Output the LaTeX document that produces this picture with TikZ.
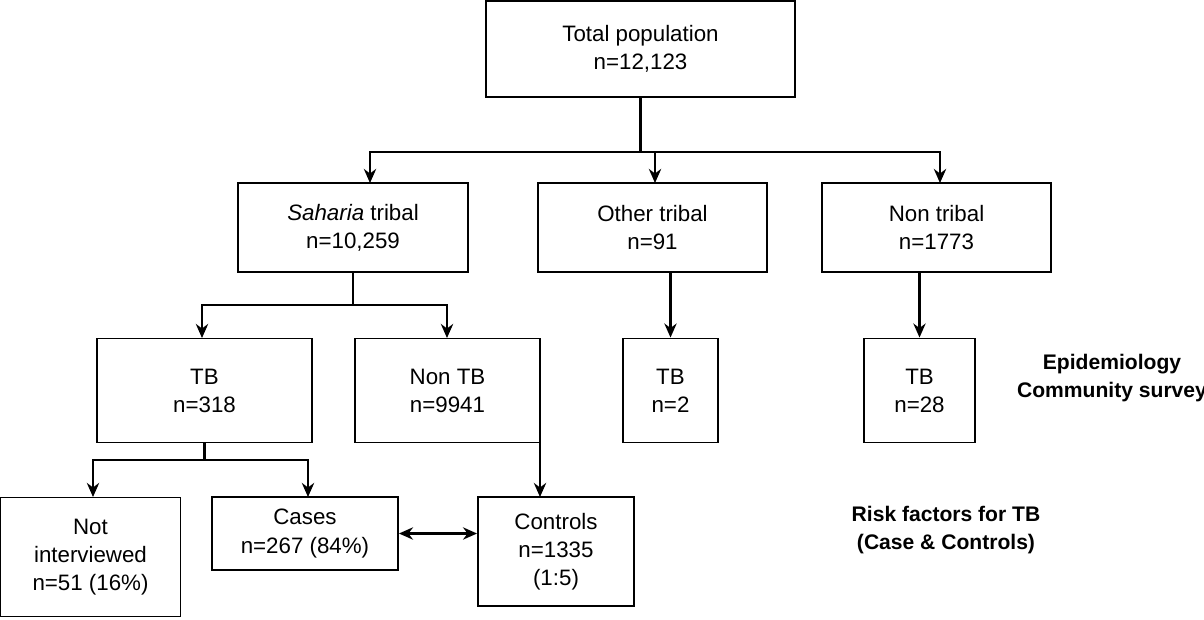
\documentclass[tikz,border=0pt]{standalone}
\usepackage{fontspec}
\setmainfont{Liberation Sans}
\usetikzlibrary{arrows.meta,positioning}
\tikzset{
  box/.style 2 args={draw, line width=1.1pt, align=center, minimum width=#1*0.02cm, minimum height=#2*0.02cm, inner sep=1pt},
  conn/.style={draw, line width=1.3pt},
  arr/.style={draw, line width=1.3pt,-{Stealth[length=8pt,width=7pt]}}
}
\begin{document}
\begin{tikzpicture}[x=0.02cm,y=-0.02cm,font=\fontsize{12.7}{16}\selectfont]
  \useasboundingbox (0,0) rectangle (1204,619);
  \node[box={309}{96}](total) at (640.5,49){Total population\\n=12,123};
  \node[box={230}{89}](sah) at (353,227.5){\textit{Saharia} tribal\\n=10,259};
  \node[box={229}{89}](oth) at (652.5,227.5){Other tribal\\n=91};
  \node[box={229}{89}](non) at (936.5,227.5){Non tribal\\n=1773};
  \node[box={215}{104}](tb) at (204.5,390.5){TB\\n=318};
  \node[box={185}{104}](ntb) at (447.5,390.5){Non TB\\n=9941};
  \node[box={95}{104}](tbo) at (670.5,390.5){TB\\n=2};
  \node[box={111}{104}](tbn) at (919.5,390.5){TB\\n=28};
  \node[box={180}{119}](noti) at (90.5,557){Not\\interviewed\\n=51 (16\%)};
  \node[box={186}{73}](cas) at (305,533.5){Cases\\n=267 (84\%)};
  \node[box={156}{109}](con) at (556,551.5){Controls\\n=1335\\(1:5)};
  \node[font=\fontsize{12}{15.5}\selectfont\bfseries,align=center](epi) at (1112,378){Epidemiology\\Community survey};
  \node[font=\fontsize{12}{15.5}\selectfont\bfseries,align=center](risk) at (946,530){Risk factors for TB\\(Case \& Controls)};
  % connectors
  \coordinate (t1) at (640.5,152);
  \path[conn] (total.south) -- (t1);
  \path[arr] (t1) -| (370,183);
  \path[arr] (t1) -| (655,183);
  \path[arr] (t1) -| (940,183);
  \coordinate (s1) at (353,305);
  \path[conn] (sah.south) -- (s1);
  \path[arr] (s1) -| (202,338);
  \path[arr] (s1) -| (447,338);
  \path[arr] (oth.south -| tbo.north) -- (tbo.north);
  \path[arr] (non.south -| tbn.north) -- (tbn.north);
  \coordinate (b1) at (204.5,460);
  \path[conn] (tb.south) -- (b1);
  \path[arr] (b1) -| (93,497);
  \path[arr] (b1) -| (308,497);
  \path[arr] (540,443) -- (540,497);
  \path[arr,{Stealth[length=8pt,width=7pt]}-{Stealth[length=8pt,width=7pt]}] (cas.east) -- (cas.east -| con.west);
\end{tikzpicture}
\end{document}
